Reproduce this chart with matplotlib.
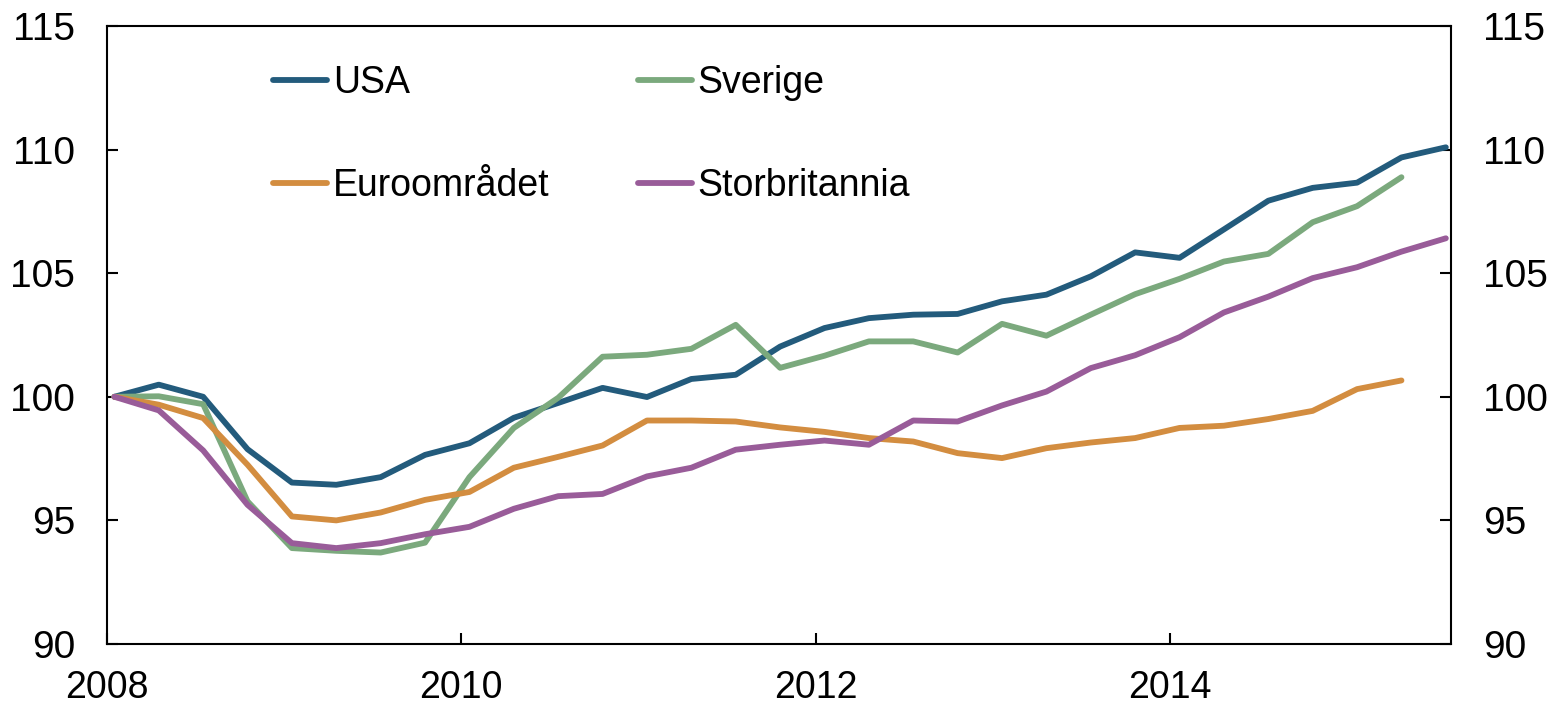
import matplotlib
matplotlib.use("Agg")
import matplotlib.pyplot as plt

plt.rcParams['font.family'] = ['Liberation Sans', 'DejaVu Sans']

# quarterly index, 2008 Q1 = 100
usa = [100, 100.49, 100.0, 97.88, 96.53, 96.44, 96.75, 97.65, 98.12, 99.15,
       99.75, 100.36, 99.99, 100.72, 100.89, 102.03, 102.78, 103.18, 103.32, 103.35,
       103.86, 104.13, 104.87, 105.84, 105.62, 106.77, 107.93, 108.45, 108.66, 109.68,
       110.09]
sverige = [100, 100.02, 99.7, 95.77, 93.88, 93.77, 93.7, 94.1, 96.75, 98.74,
           99.96, 101.62, 101.7, 101.94, 102.91, 101.17, 101.66, 102.24, 102.24, 101.79,
           102.95, 102.47, 103.32, 104.15, 104.77, 105.47, 105.78, 107.06, 107.71, 108.88]
euro = [100, 99.68, 99.14, 97.25, 95.16, 95.0, 95.32, 95.83, 96.15, 97.13,
        97.57, 98.03, 99.04, 99.04, 99.0, 98.76, 98.58, 98.33, 98.19, 97.72,
        97.52, 97.92, 98.15, 98.33, 98.74, 98.83, 99.1, 99.43, 100.31, 100.66]
uk = [100, 99.45, 97.83, 95.63, 94.08, 93.88, 94.08, 94.44, 94.74, 95.47,
      95.98, 96.07, 96.78, 97.13, 97.86, 98.06, 98.23, 98.06, 99.04, 99.0,
      99.65, 100.21, 101.16, 101.68, 102.41, 103.41, 104.05, 104.8, 105.24, 105.87,
      106.41]

series = [
    ("USA", usa, "#235b7c"),
    ("Sverige", sverige, "#7ba97d"),
    ("Euroområdet", euro, "#d38d40"),
    ("Storbritannia", uk, "#995c99"),
]

year_ticks = [2008, 2010, 2012, 2014]
y_ticks = [90, 95, 100, 105, 110, 115]


def quarter_dates(n):
    # mid first month of each quarter
    return [2008 + 0.042 + 0.2505 * i for i in range(n)]


fig = plt.figure(figsize=(15.5, 7.04), dpi=100)
ax = fig.add_axes([0.069, 0.0852, 0.867, 0.878])

lines = {}
for name, vals, col in series:
    ln, = ax.plot(quarter_dates(len(vals)), vals, color=col, lw=4.2,
                  solid_capstyle='round', label=name)
    lines[name] = ln

ax.set_xlim(2008, 2015.585)
ax.set_ylim(90, 115)
ax.set_xticks(year_ticks)
ax.set_xticklabels([str(y) for y in year_ticks])
ax.set_yticks(y_ticks)

ax.tick_params(axis='y', direction='in', length=8, width=1.5, labelsize=28,
               left=True, right=True, labelleft=True, labelright=True, pad=23)
ax.tick_params(axis='x', direction='in', length=8, width=1.5, labelsize=27, pad=19)
for sp in ax.spines.values():
    sp.set_linewidth(1.5)

order = ["USA", "Euroområdet", "Sverige", "Storbritannia"]
ax.legend([lines[n] for n in order], order, ncol=2, loc='upper left',
          bbox_to_anchor=(0.1235, 0.937), frameon=False, fontsize=27,
          borderpad=0, borderaxespad=0, handlelength=1.44, handletextpad=0.16,
          columnspacing=2.35, labelspacing=1.8)

fig.savefig("out.png", dpi=100)
